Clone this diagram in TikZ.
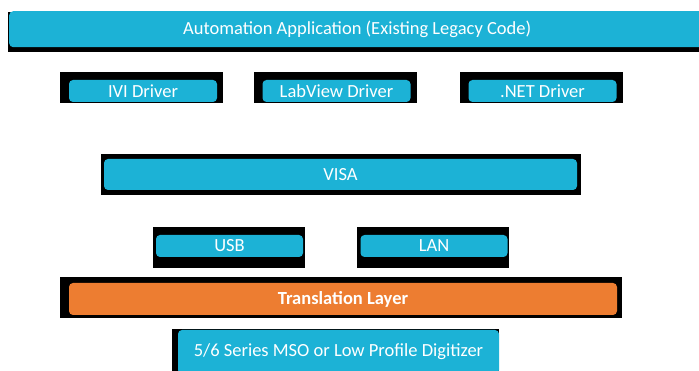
\documentclass[tikz,border=0pt]{standalone}
\usepackage{fontspec}
\setmainfont{Carlito}
\definecolor{aqua}{RGB}{28,178,214}
\definecolor{tangerine}{RGB}{237,125,49}

\begin{document}
\begin{tikzpicture}[x=1pt, y=-1pt]
    \tikzset{
        layer/.style={fill=aqua, rounded corners=4pt, text=white, inner sep=0pt,
            font=\fontsize{18.5}{22}\selectfont},
        backing/.style={fill=black}
    }
    \useasboundingbox (0,0) rectangle (699,371);

    % top: application
    \fill[backing] (8,12) rectangle (710,52);
    \node[layer, minimum width=701pt, minimum height=36pt, anchor=north west] (app) at (9,11)
        {\hspace*{-5pt}Automation Application (Existing Legacy Code)};

    % drivers
    \foreach \name/\cx/\txt in {ivi/143/IVI Driver, labview/336.5/LabView Driver, dotnet/542.5/.NET Driver} {
        \fill[backing] (\cx-83,72) rectangle (\cx+80,103);
        \node[layer, minimum width=148pt, minimum height=22pt] (\name) at (\cx,91) {\txt};
    }

    % visa
    \fill[backing] (101,154) rectangle (581,195);
    \node[layer, minimum width=473pt, minimum height=31pt] (visa) at (340.5,174.5) {VISA};

    % transports
    \foreach \name/\cx/\txt in {usb/229.5/USB, lan/434/LAN} {
        \fill[backing] (\cx-77,227) rectangle (\cx+75,268);
        \node[layer, minimum width=147pt, minimum height=22pt] (\name) at (\cx,246) {\txt};
    }

    % translation layer
    \fill[backing] (60,277) rectangle (622,318);
    \node[layer, fill=tangerine, minimum width=548pt, minimum height=32pt,
        font=\fontsize{18.5}{22}\selectfont\bfseries] (trans) at (343,299) {Translation Layer};

    % instrument
    \fill[backing] (172,329) rectangle (499,371);
    \node[layer, minimum width=321pt, minimum height=44pt] (scope) at (338.5,352)
        {5/6 Series MSO or Low Profile Digitizer};
\end{tikzpicture}
\end{document}
